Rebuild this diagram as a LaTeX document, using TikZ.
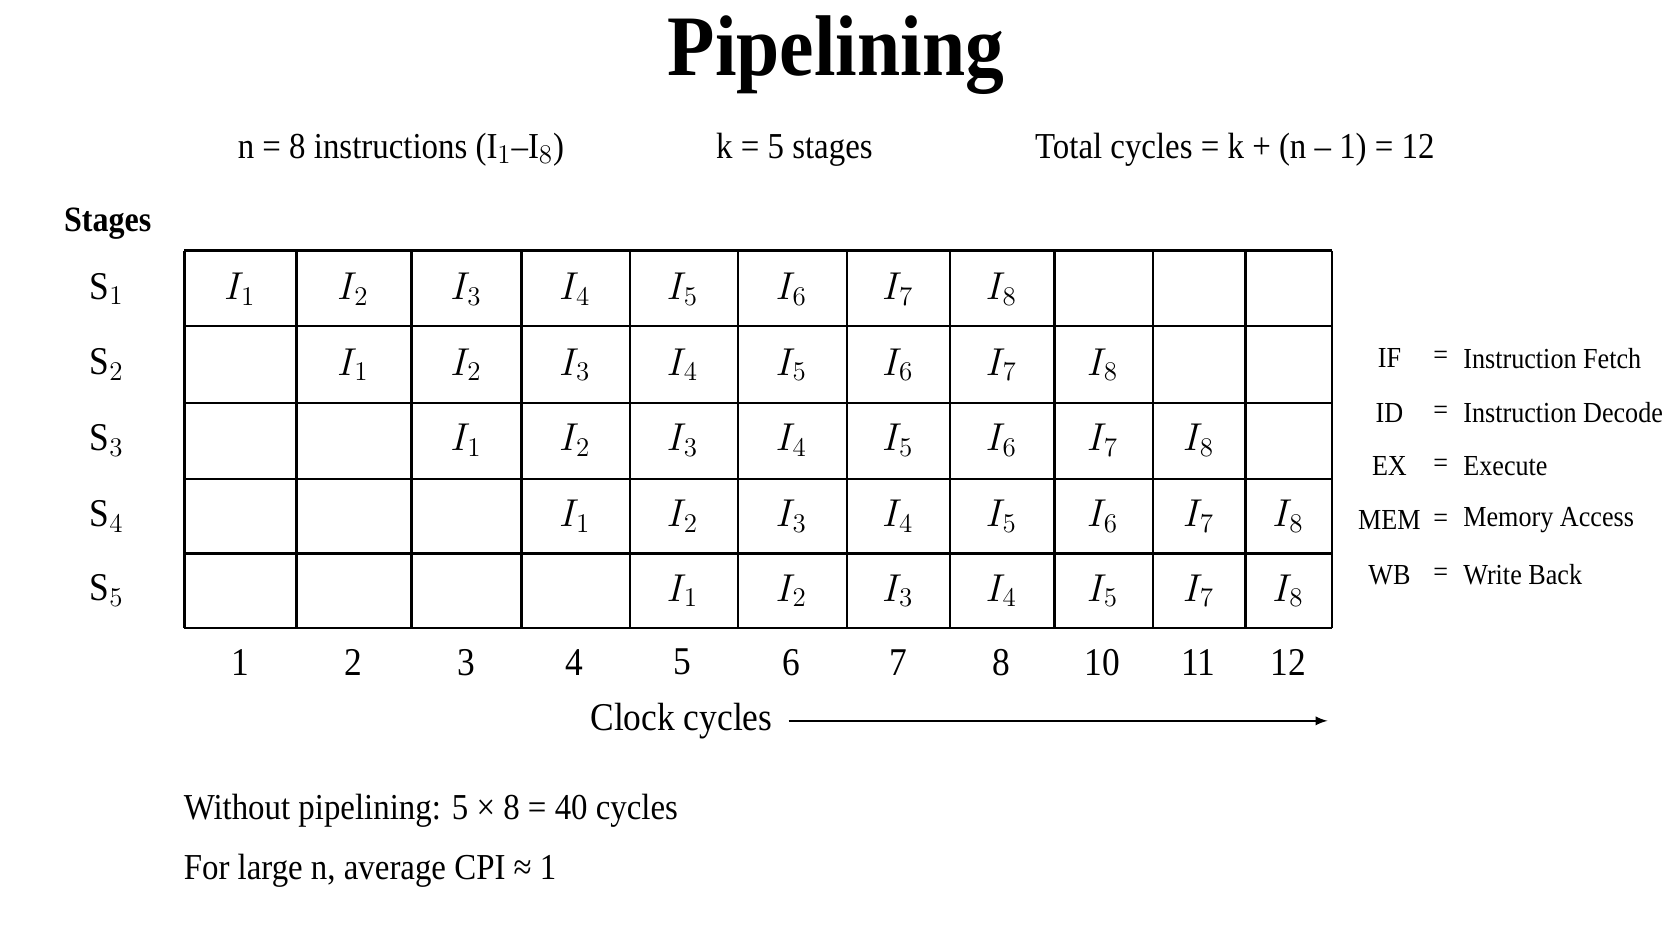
\documentclass[tikz,border=0pt]{standalone}
\usepackage{fontspec}
\setmainfont[FakeStretch=0.9]{Liberation Serif}
\begin{document}
\begin{tikzpicture}[x=0.02cm,y=-0.02cm,
  txt/.style={inner sep=0pt,font=\fontsize{19.5}{22}\selectfont},
  cell/.style={inner sep=0pt,font=\fontsize{21}{24}\selectfont},
  leg/.style={inner sep=0pt,font=\fontsize{15.5}{19}\selectfont}]
\useasboundingbox[fill=white] (0,0) rectangle (1568,882);
\node[inner sep=0pt,font=\fontsize{46}{50}\selectfont\bfseries] (title) at (784,52) {Pipelining};
\node[txt] (n) at (376,140) {n = 8 instructions (I$_1$--I$_8$)};
\node[txt] (k) at (745,140) {k = 5 stages};
\node[txt] (tc) at (1158,140) {Total cycles = k + (n -- 1) = 12};
\node[txt,font=\fontsize{19}{22}\selectfont\bfseries] (st) at (101,210) {Stages};
\def\xs{173,278,386,489,591,692,794,891,989,1081,1168,1249}
\def\ys{235,306,378,449,519,589}
\foreach \x in \xs \draw[line width=1.2pt] (\x,235) -- (\x,589);
\foreach \y in \ys \draw[line width=1.2pt] (173,\y) -- (1249,\y);
\foreach \i/\y in {1/271,2/342,3/413,4/484,5/554}
  \node[cell] (s\i) at (100,\y) {S$_\i$};
\def\cx{{225,331,437,539,640,742,842,939,1034,1124,1208}}
\def\cy{{271,342,413,484,554}}
\foreach \r/\c/\v in {0/0/1,0/1/2,0/2/3,0/3/4,0/4/5,0/5/6,0/6/7,0/7/8,
  1/1/1,1/2/2,1/3/3,1/4/4,1/5/5,1/6/6,1/7/7,1/8/8,
  2/2/1,2/3/2,2/4/3,2/5/4,2/6/5,2/7/6,2/8/7,2/9/8,
  3/3/1,3/4/2,3/5/3,3/6/4,3/7/5,3/8/6,3/9/7,3/10/8,
  4/4/1,4/5/2,4/6/3,4/7/4,4/8/5,4/9/7,4/10/8}
  \node[cell] (c\r-\c) at (\cx[\c],\cy[\r]) {$I_{\v}$};
\foreach \c/\l in {0/1,1/2,2/3,3/4,4/5,5/6,6/7,7/8,8/10,9/11,10/12}
  \node[cell] (col\c) at (\cx[\c],621) {\l};
\node[cell] (clk) at (639,676) {Clock cycles};
\coordinate (arrEnd) at (1245,676);
\draw[-latex,line width=1.2pt] (clk.east)++(15,0) -- (arrEnd);
\foreach \a/\b/\y in {IF/Instruction Fetch/336,ID/Instruction Decode/387,EX/Execute/437,MEM/Memory Access/488,WB/Write Back/539}{
  \node[leg,anchor=center] (a\a) at (1303,\y) {\a};
  \node[leg] (e\a) at (1351,\y) {=};
  \node[leg,anchor=west] (d\a) at (1372,\y) {\b};
}
\node[txt,anchor=west] (w1) at (172,760) {Without pipelining: 5 × 8 = 40 cycles};
\node[txt,anchor=west] (w2) at (172,817) {For large n, average CPI ≈ 1};
\end{tikzpicture}
\end{document}
